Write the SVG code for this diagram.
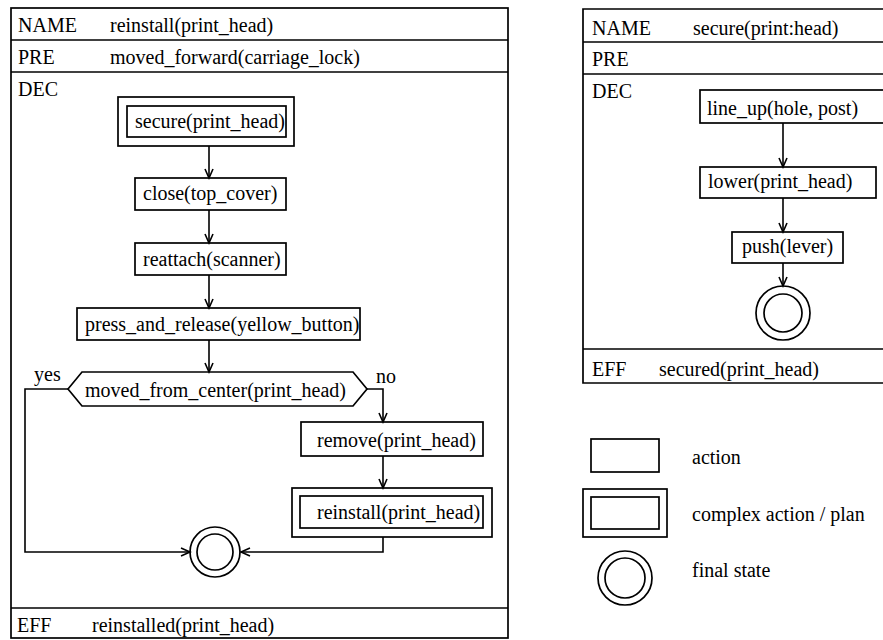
<svg xmlns="http://www.w3.org/2000/svg" width="883" height="640" viewBox="0 0 883 640">
<style>
text{font-family:"Liberation Serif","Times New Roman",serif;font-size:20px;fill:#000}
.b{fill:none;stroke:#000;stroke-width:1.7}
.c{fill:none;stroke:#000;stroke-width:1.6}
</style>
<defs>
<marker id="ah" markerWidth="12" markerHeight="12" refX="10" refY="5" orient="auto" markerUnits="userSpaceOnUse">
<path d="M1,1 L10,5 L1,9" fill="none" stroke="#000" stroke-width="1.6"/>
</marker>
</defs>
<rect width="883" height="640" fill="#fff"/>

<g id="panel-left">
<rect class="b" x="11" y="8" width="497" height="630"/>
<line class="b" x1="11" y1="40" x2="508" y2="40"/>
<line class="b" x1="11" y1="72" x2="508" y2="72"/>
<line class="b" x1="11" y1="608" x2="508" y2="608"/>
<text x="18" y="32">NAME</text><text x="110" y="32">reinstall(print_head)</text>
<text x="18" y="64">PRE</text><text x="110" y="64">moved_forward(carriage_lock)</text>
<text x="18" y="96">DEC</text>
<text x="17" y="632">EFF</text><text x="92" y="632">reinstalled(print_head)</text>
</g>

<g id="panel-right">
<path class="b" d="M892,9 H583 V383 H892"/>
<line class="b" x1="583" y1="42" x2="892" y2="42"/>
<line class="b" x1="583" y1="74" x2="892" y2="74"/>
<line class="b" x1="583" y1="349" x2="892" y2="349"/>
<text x="592" y="35">NAME</text><text x="693" y="35">secure(print:head)</text>
<text x="592" y="66">PRE</text>
<text x="592" y="98">DEC</text>
<text x="592" y="376">EFF</text><text x="659" y="376">secured(print_head)</text>
</g>

<g id="connectors">
<line class="c" x1="209" y1="146" x2="209" y2="178" marker-end="url(#ah)"/>
<line class="c" x1="209" y1="210" x2="209" y2="243" marker-end="url(#ah)"/>
<line class="c" x1="209" y1="275" x2="209" y2="308" marker-end="url(#ah)"/>
<line class="c" x1="209" y1="340" x2="209" y2="372" marker-end="url(#ah)"/>
<path class="c" d="M68,389 H25 V552 H190" marker-end="url(#ah)"/>
<path class="c" d="M367,389 H383 V422" marker-end="url(#ah)"/>
<line class="c" x1="383" y1="456" x2="383" y2="488" marker-end="url(#ah)"/>
<path class="c" d="M383,537 V552 H241" marker-end="url(#ah)"/>
<line class="c" x1="783" y1="123" x2="783" y2="167" marker-end="url(#ah)"/>
<line class="c" x1="783" y1="198" x2="783" y2="232" marker-end="url(#ah)"/>
<line class="c" x1="783" y1="263" x2="783" y2="286" marker-end="url(#ah)"/>
</g>

<g id="secure">
<rect class="b" x="118" y="97" width="176" height="49"/>
<rect class="b" x="127" y="106" width="159" height="31"/>
<text x="135" y="128">secure(print_head)</text>
</g>
<g id="close">
<rect class="b" x="135" y="178" width="151" height="32"/>
<text x="143" y="200">close(top_cover)</text>
</g>
<g id="reattach">
<rect class="b" x="135" y="243" width="151" height="32"/>
<text x="143" y="266">reattach(scanner)</text>
</g>
<g id="press">
<rect class="b" x="77" y="308" width="283" height="32"/>
<text x="85" y="331">press_and_release(yellow_button)</text>
</g>
<g id="decision">
<polygon class="b" points="68,389 82,372 353,372 367,389 353,406 82,406"/>
<text x="85" y="397">moved_from_center(print_head)</text>
<text x="34" y="381">yes</text>
<text x="376" y="383">no</text>
</g>
<g id="remove">
<rect class="b" x="301" y="422" width="182" height="34"/>
<text x="317" y="447">remove(print_head)</text>
</g>
<g id="reinstall">
<rect class="b" x="292" y="488" width="200" height="49"/>
<rect class="b" x="300" y="496" width="183" height="32"/>
<text x="317" y="519">reinstall(print_head)</text>
</g>
<g id="final-left">
<circle class="b" cx="215" cy="552" r="25"/>
<circle class="b" cx="215" cy="552" r="18"/>
</g>

<g id="line_up">
<rect class="b" x="700" y="90" width="192" height="33"/>
<text x="707" y="115">line_up(hole, post)</text>
</g>
<g id="lower">
<rect class="b" x="700" y="167" width="176" height="31"/>
<text x="708" y="188">lower(print_head)</text>
</g>
<g id="push">
<rect class="b" x="732" y="232" width="111" height="31"/>
<text x="742" y="253">push(lever)</text>
</g>
<g id="final-right">
<circle class="b" cx="783" cy="313" r="27"/>
<circle class="b" cx="783" cy="313" r="19"/>
</g>

<g id="legend">
<rect class="b" x="591" y="439" width="68" height="33"/>
<text x="692" y="464">action</text>
<rect class="b" x="583" y="489" width="84" height="48"/>
<rect class="b" x="591" y="497" width="68" height="32"/>
<text x="692" y="521">complex action / plan</text>
<circle class="b" cx="625" cy="578" r="27"/>
<circle class="b" cx="625" cy="578" r="20"/>
<text x="692" y="577">final state</text>
</g>
</svg>
